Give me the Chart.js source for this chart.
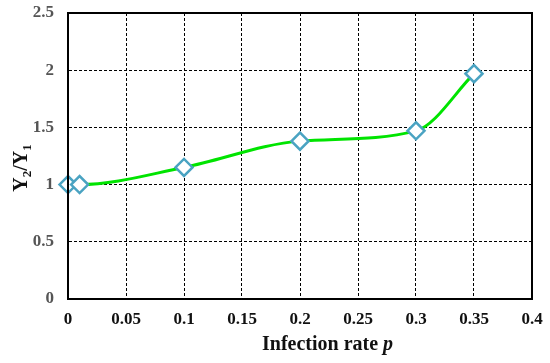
<!DOCTYPE html>
<html>
<head>
<meta charset="utf-8">
<script src="https://cdn.jsdelivr.net/npm/chart.js@4/dist/chart.umd.min.js"></script>
<style>
  html, body { margin: 0; padding: 0; background: #fff; }
  #wrap { width: 550px; height: 363px; }
</style>
</head>
<body>
<div id="wrap"><canvas id="chart"></canvas></div>
<script>
// values
const infectionRate = [0, 0.01, 0.1, 0.2, 0.3, 0.35];
const ratioY2Y1 = [1.0, 1.0, 1.15, 1.38, 1.47, 1.97];
const xTicks = [0, 0.05, 0.1, 0.15, 0.2, 0.25, 0.3, 0.35, 0.4];
const yTicks = [0, 0.5, 1, 1.5, 2, 2.5];

const serif = "'Liberation Serif', 'Times New Roman', serif";

// frame + axis titles (titles need subscripts / italics)
const frameAndTitles = {
    id: "frameAndTitles",
    afterDraw(chart) {
        const ctx = chart.ctx;
        const a = chart.chartArea;
        ctx.save();
        ctx.strokeStyle = "#000";
        ctx.lineWidth = 2;
        ctx.strokeRect(a.left, a.top, a.right - a.left, a.bottom - a.top);

        // x title: "Infection rate p"
        ctx.fillStyle = "#111";
        ctx.textBaseline = "alphabetic";
        const t1 = "Infection rate ";
        ctx.font = "bold 20px " + serif;
        const w1 = ctx.measureText(t1).width;
        let x0 = 262;
        ctx.fillText(t1, x0, 350);
        ctx.font = "italic bold 20px " + serif;
        ctx.fillText("p", x0 + w1, 350);

        // y title: "Y2/Y1" rotated
        ctx.translate(27, 168);
        ctx.rotate(-Math.PI / 2);
        const parts = [
            ["Y", "bold 20px " + serif, 0],
            ["2", "bold 13px " + serif, 4],
            ["/Y", "bold 20px " + serif, 0],
            ["1", "bold 13px " + serif, 4]
        ];
        let total = 0;
        parts.forEach(p => { ctx.font = p[1]; total += ctx.measureText(p[0]).width; });
        let x = -total / 2;
        parts.forEach(p => {
            ctx.font = p[1];
            ctx.fillText(p[0], x, p[2]);
            x += ctx.measureText(p[0]).width;
        });
        ctx.restore();
    }
};

new Chart(document.getElementById("chart"), {
    type: "scatter",
    data: {
        datasets: [{
            data: infectionRate.map((v, i) => ({ x: v, y: ratioY2Y1[i] })),
            showLine: true,
            clip: false,
            borderColor: "#00e400",
            borderWidth: 3,
            cubicInterpolationMode: "monotone",
            pointStyle: "rectRot",
            pointRadius: 8.5,
            pointBorderWidth: 2.5,
            pointBorderColor: "#4aa3c2",
            pointBackgroundColor: "#ffffff"
        }]
    },
    options: {
        responsive: true,
        maintainAspectRatio: false,
        animation: false,
        layout: { padding: { top: 13, right: 18, left: 0, bottom: 0 } },
        plugins: { legend: { display: false }, tooltip: { enabled: false } },
        scales: {
            x: {
                type: "linear",
                min: 0, max: 0.4,
                afterBuildTicks: s => { s.ticks = xTicks.map(v => ({ value: v })); },
                afterFit: s => { s.height = 64; s.paddingLeft = 0; s.paddingRight = 0; },
                grid: { color: "#000", lineWidth: 1, drawTicks: false },
                border: { display: true, color: "#000", width: 2, dash: [3, 2] },
                ticks: {
                    padding: 10,
                    color: "#111",
                    font: { family: serif, size: 17, weight: "bold" },
                    callback: v => String(v)
                }
            },
            y: {
                min: 0, max: 2.5,
                afterBuildTicks: s => { s.ticks = yTicks.map(v => ({ value: v })); },
                afterFit: s => { s.width = 68; s.paddingTop = 0; s.paddingBottom = 0; },
                grid: { color: "#000", lineWidth: 1, drawTicks: false },
                border: { display: true, color: "#000", width: 2, dash: [3, 2] },
                ticks: {
                    padding: 14,
                    color: "#555",
                    font: { family: serif, size: 17, weight: "bold" },
                    callback: v => String(v)
                }
            }
        }
    },
    plugins: [frameAndTitles]
});
</script>
</body>
</html>
